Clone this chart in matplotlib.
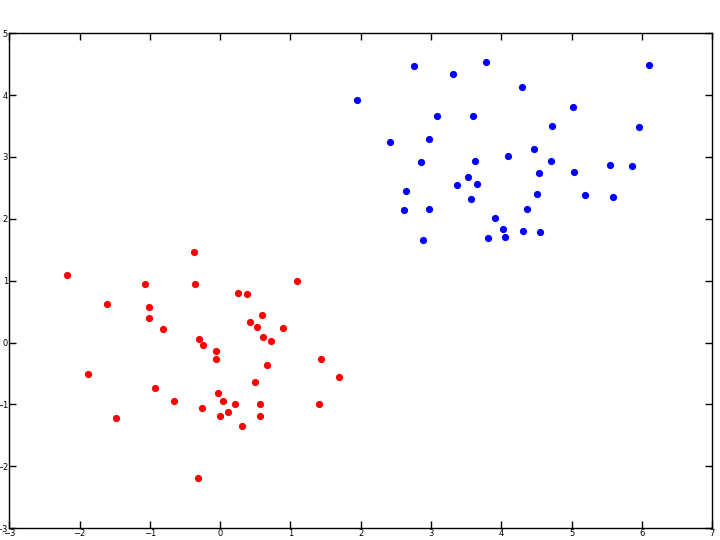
import matplotlib
matplotlib.use('Agg')
import matplotlib.pyplot as plt
import numpy as np

# class 1 (red) points
red_x = [-0.377, -2.175, -1.065, -0.354, -1.606, -1.009, -1.009, -0.809, -0.297, -0.240,
         -1.876, -0.923, -0.653, -0.255, -1.478, -0.316, 1.097, 0.257, 0.381, 0.590,
         0.428, 0.528, 0.898, 0.613, 0.727, -0.064, -0.055, 1.438, 0.670, 1.694,
         0.499, -0.027, 0.036, 0.215, 0.570, 1.410, 0.115, -0.003, 0.570, 0.306]
red_y = [1.468, 1.086, 0.946, 0.950, 0.622, 0.569, 0.396, 0.213, 0.061, -0.036,
         -0.515, -0.741, -0.946, -1.055, -1.216, -2.196, 0.989, 0.805, 0.784, 0.449,
         0.331, 0.245, 0.234, 0.093, 0.019, -0.133, -0.262, -0.262, -0.369, -0.558,
         -0.634, -0.817, -0.946, -1.000, -1.000, -0.990, -1.119, -1.184, -1.184, -1.346]

# class 2 (blue) points
blue_x = [2.761, 3.785, 3.316, 1.942, 3.088, 3.600, 2.420, 2.970, 2.861, 3.624,
          4.098, 3.529, 3.373, 3.653, 2.639, 3.568, 2.619, 2.970, 3.913, 4.023,
          3.805, 4.047, 2.881, 6.104, 4.289, 5.018, 4.724, 5.957, 4.459, 4.705,
          5.549, 5.862, 4.535, 5.037, 4.506, 5.189, 5.592, 4.368, 4.312, 4.553]
blue_y = [4.476, 4.531, 4.337, 3.926, 3.658, 3.658, 3.237, 3.286, 2.918, 2.930,
          3.016, 2.671, 2.547, 2.568, 2.454, 2.320, 2.142, 2.158, 2.008, 1.835,
          1.685, 1.706, 1.652, 4.487, 4.131, 3.803, 3.501, 3.489, 3.124, 2.930,
          2.875, 2.854, 2.736, 2.757, 2.401, 2.390, 2.357, 2.154, 1.803, 1.791]

fig = plt.figure(figsize=(7.2, 5.4), dpi=100)
ax = fig.add_axes([0.0129, 0.0222, 0.9764, 0.9161])

ax.plot(red_x, red_y, 'o', color='#ff0000', markersize=5.2, markeredgewidth=0)
ax.plot(blue_x, blue_y, 'o', color='#0000ff', markersize=5.2, markeredgewidth=0)

ax.set_xlim(-3, 7)
ax.set_ylim(-3, 5)
ax.set_xticks(np.arange(-3, 8, 1))
ax.set_yticks(np.arange(-3, 6, 1))
ax.tick_params(direction='in', length=5, width=1, labelsize=6,
               top=True, right=True, pad=1)
for s in ax.spines.values():
    s.set_linewidth(1)

fig.savefig('out.png', dpi=100)
